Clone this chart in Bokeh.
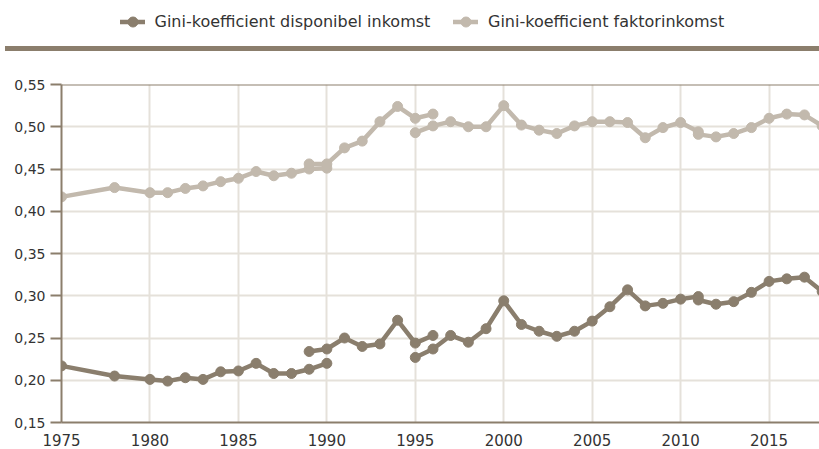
from bokeh.plotting import figure
from bokeh.models import Range1d, CustomJSTickFormatter, Span, Legend, LegendItem, Div
from bokeh.layouts import column
from bokeh.embed import file_html
from bokeh.resources import INLINE

# ---------------- data ----------------
label_disp = "Gini-koefficient disponibel inkomst"
label_fakt = "Gini-koefficient faktorinkomst"

years_a = [1975, 1978, 1980, 1981, 1982, 1983, 1984, 1985, 1986, 1987, 1988, 1989, 1990]
disp_a = [0.217, 0.205, 0.201, 0.199, 0.203, 0.201, 0.210, 0.211, 0.220, 0.208, 0.208, 0.213, 0.220]
fakt_a = [0.417, 0.428, 0.422, 0.422, 0.427, 0.430, 0.435, 0.439, 0.447, 0.442, 0.445, 0.450, 0.451]

years_b = [1989, 1990, 1991, 1992, 1993, 1994, 1995, 1996]
disp_b = [0.234, 0.237, 0.250, 0.240, 0.243, 0.271, 0.244, 0.253]
fakt_b = [0.456, 0.456, 0.475, 0.483, 0.506, 0.524, 0.510, 0.515]

years_c = [1995, 1996, 1997, 1998, 1999, 2000, 2001, 2002, 2003, 2004,
           2005, 2006, 2007, 2008, 2009, 2010, 2011]
disp_c = [0.227, 0.237, 0.253, 0.245, 0.261, 0.294, 0.266, 0.258, 0.252, 0.258,
          0.270, 0.287, 0.307, 0.288, 0.291, 0.296, 0.299]
fakt_c = [0.493, 0.501, 0.506, 0.500, 0.500, 0.525, 0.502, 0.496, 0.492, 0.501,
          0.506, 0.506, 0.505, 0.487, 0.499, 0.505, 0.494]

years_d = [2011, 2012, 2013, 2014, 2015, 2016, 2017, 2018]
disp_d = [0.295, 0.290, 0.293, 0.304, 0.317, 0.320, 0.322, 0.305]
fakt_d = [0.491, 0.488, 0.492, 0.499, 0.510, 0.515, 0.514, 0.501]

x_ticks = [1975, 1980, 1985, 1990, 1995, 2000, 2005, 2010, 2015]
y_ticks = [0.15, 0.20, 0.25, 0.30, 0.35, 0.40, 0.45, 0.50, 0.55]

# ---------------- styles ----------------
DARK = "#8a7e6d"
LIGHT = "#c2b9ad"
AXIS = "#8b7e6c"
GRID = "#e5e1da"
TEXT = "#333333"
FONT = "DejaVu Sans"

# ---------------- legend strip ----------------
top = figure(width=819, height=46, x_range=Range1d(0, 1), y_range=Range1d(0, 1),
             x_axis_location=None, y_axis_location=None,
             toolbar_location=None, output_backend="svg",
             min_border=0, outline_line_color=None)
top.xgrid.visible = False
top.ygrid.visible = False
ld = top.line(x=[-10, -9], y=[-10, -9], line_color=DARK, line_width=4.5, line_cap="round")
sd = top.scatter(x=[-10], y=[-10], size=10, color=DARK)
lf = top.line(x=[-10, -9], y=[-10, -9], line_color=LIGHT, line_width=4.5, line_cap="round")
sf = top.scatter(x=[-10], y=[-10], size=10, color=LIGHT)

for rl, lab, xloc in [([ld, sd], label_disp, 58.5), ([lf, sf], label_fakt, 392)]:
    leg = Legend(items=[LegendItem(label=lab, renderers=rl)],
                 location=(xloc, 12), orientation="horizontal",
                 glyph_width=25, glyph_height=25, label_standoff=10,
                 padding=0, margin=0, border_line_color=None,
                 background_fill_alpha=0,
                 label_text_font=FONT, label_text_font_size="16px",
                 label_text_color=TEXT)
    top.add_layout(leg)

# ---------------- band ----------------
band = Div(text="", width=814, height=5, margin=(0, 0, 0, 5),
           styles={"background-color": AXIS})

# ---------------- main chart ----------------
p = figure(width=819, height=398, x_range=Range1d(1975, 2017.85), y_range=Range1d(0.15, 0.55),
           toolbar_location=None, output_backend="svg",
           min_border_left=61, min_border_right=0, min_border_top=33, min_border_bottom=27,
           outline_line_color=None)

p.xaxis.ticker = x_ticks
p.yaxis.ticker = y_ticks
p.yaxis.formatter = CustomJSTickFormatter(code="return tick.toFixed(2).replace('.', ',');")

for ax in (p.xaxis, p.yaxis):
    ax.axis_line_color = AXIS
    ax.axis_line_width = 2
    ax.major_tick_line_color = AXIS
    ax.major_tick_line_width = 2
    ax.minor_tick_line_color = None
    ax.major_label_text_font = FONT
    ax.major_label_text_color = TEXT

p.xaxis.major_tick_out = 0
p.xaxis.major_tick_in = 0
p.xaxis.major_label_text_font_size = "15px"
p.xaxis.major_label_standoff = 11
p.yaxis.major_tick_out = 11
p.yaxis.major_tick_in = 0
p.yaxis.major_label_text_font_size = "14px"
p.yaxis.major_label_standoff = 5

p.xgrid.grid_line_color = GRID
p.xgrid.grid_line_width = 2
p.ygrid.grid_line_color = GRID
p.ygrid.grid_line_width = 2

p.add_layout(Span(location=0.55, dimension="width", line_color=AXIS, line_width=2))

for yrs, vals, col in [(years_a, fakt_a, LIGHT), (years_b, fakt_b, LIGHT),
                       (years_c, fakt_c, LIGHT), (years_d, fakt_d, LIGHT),
                       (years_a, disp_a, DARK), (years_b, disp_b, DARK),
                       (years_c, disp_c, DARK), (years_d, disp_d, DARK)]:
    p.line(yrs, vals, line_color=col, line_width=4.5, line_join="round", line_cap="round")
    p.scatter(yrs, vals, size=10, color=col)

layout = column(top, band, p, spacing=0)
open("out.html", "w").write(file_html(layout, INLINE))
